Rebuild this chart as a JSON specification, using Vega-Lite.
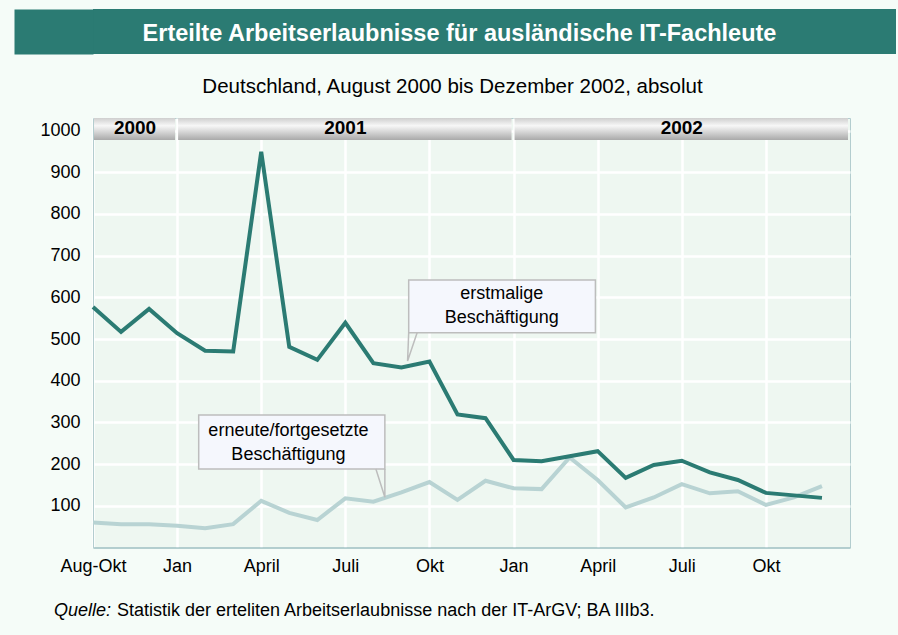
{
  "$schema": "https://vega.github.io/schema/vega-lite/v6.json",
  "background": "#f5fcf8",
  "padding": {"left": 13, "top": 9, "right": 3, "bottom": 15},
  "spacing": 22,
  "config": {"font": "Liberation Sans", "view": {"stroke": null}},
  "vconcat": [
    {
      "width": 803,
      "height": 45,
      "view": {"fill": "#2b7b73", "stroke": null},
      "data": {"values": [{"t": "Erteilte Arbeitserlaubnisse für ausländische IT-Fachleute"}]},
      "mark": {"type": "text", "color": "white", "fontWeight": "bold", "fontSize": 23.5, "baseline": "middle", "align": "center", "dx": -35, "dy": 2},
      "encoding": {
        "text": {"field": "t"},
        "y": {"datum": 0.5, "type": "quantitative", "scale": {"domain": [0, 1], "nice": false},
          "axis": {"title": null, "labels": false, "ticks": false, "grid": false, "domain": true,
            "domainColor": "#2b7b73", "domainWidth": 79, "domainCap": "butt", "offset": 39.5, "minExtent": 0, "maxExtent": 79}}
      }
    },
    {
      "width": 757,
      "height": 429.5,
      "title": {"text": "Deutschland, August 2000 bis Dezember 2002, absolut", "fontSize": 20.5, "fontWeight": "normal", "color": "black", "anchor": "middle", "dx": -19, "offset": 20.5},
      "view": {"fill": "#eef7f1", "stroke": "#b3cdcf", "strokeWidth": 1},
      "layer": [
        {
          "data": {"values": [
            {"monat": "Aug-Okt 2000", "i": 0, "erstmalig": 577, "erneut": 60},
            {"monat": "Nov 2000", "i": 1, "erstmalig": 517, "erneut": 56},
            {"monat": "Dez 2000", "i": 2, "erstmalig": 572, "erneut": 56},
            {"monat": "Jan 2001", "i": 3, "erstmalig": 514, "erneut": 52},
            {"monat": "Feb 2001", "i": 4, "erstmalig": 472, "erneut": 46},
            {"monat": "Mär 2001", "i": 5, "erstmalig": 470, "erneut": 56},
            {"monat": "Apr 2001", "i": 6, "erstmalig": 949, "erneut": 112},
            {"monat": "Mai 2001", "i": 7, "erstmalig": 481, "erneut": 83},
            {"monat": "Jun 2001", "i": 8, "erstmalig": 450, "erneut": 66},
            {"monat": "Jul 2001", "i": 9, "erstmalig": 539, "erneut": 118},
            {"monat": "Aug 2001", "i": 10, "erstmalig": 442, "erneut": 110},
            {"monat": "Sep 2001", "i": 11, "erstmalig": 432, "erneut": 132},
            {"monat": "Okt 2001", "i": 12, "erstmalig": 446, "erneut": 157},
            {"monat": "Nov 2001", "i": 13, "erstmalig": 319, "erneut": 114},
            {"monat": "Dez 2001", "i": 14, "erstmalig": 310, "erneut": 160},
            {"monat": "Jan 2002", "i": 15, "erstmalig": 210, "erneut": 142},
            {"monat": "Feb 2002", "i": 16, "erstmalig": 207, "erneut": 140},
            {"monat": "Mär 2002", "i": 17, "erstmalig": 219, "erneut": 216},
            {"monat": "Apr 2002", "i": 18, "erstmalig": 231, "erneut": 162},
            {"monat": "Mai 2002", "i": 19, "erstmalig": 167, "erneut": 96},
            {"monat": "Jun 2002", "i": 20, "erstmalig": 198, "erneut": 120},
            {"monat": "Jul 2002", "i": 21, "erstmalig": 208, "erneut": 152},
            {"monat": "Aug 2002", "i": 22, "erstmalig": 180, "erneut": 130},
            {"monat": "Sep 2002", "i": 23, "erstmalig": 162, "erneut": 135},
            {"monat": "Okt 2002", "i": 24, "erstmalig": 131, "erneut": 102},
            {"monat": "Nov 2002", "i": 25, "erstmalig": 125, "erneut": 120},
            {"monat": "Dez 2002", "i": 26, "erstmalig": 119, "erneut": 147}
          ]},
          "layer": [
            {
              "mark": {"type": "line", "color": "#b8d3d3", "strokeWidth": 4, "strokeJoin": "miter"},
              "encoding": {
                "x": {"field": "i", "type": "quantitative",
                  "scale": {"domain": [0, 27], "nice": false, "zero": false},
                  "axis": {"title": null, "values": [0, 3, 6, 9, 12, 15, 18, 21, 24],
                    "labelExpr": "['Aug-Okt','Jan','April','Juli','Okt','Jan','April','Juli','Okt'][round(datum.value/3)]",
                    "labelFlush": false, "labelOverlap": false, "labelFontSize": 18, "labelColor": "black", "labelPadding": 10,
                    "ticks": false, "grid": true, "gridColor": "white", "gridWidth": 2.5,
                    "domain": true, "domainColor": "#a9c6c8", "domainWidth": 1.5}},
                "y": {"field": "erneut", "type": "quantitative",
                  "scale": {"domain": [0, 1030], "nice": false, "zero": true},
                  "axis": {"title": null, "values": [100, 200, 300, 400, 500, 600, 700, 800, 900, 1000], "format": "d",
                    "labelFontSize": 18, "labelColor": "black", "labelPadding": 13, "labelOverlap": false,
                    "ticks": false, "grid": true, "gridColor": "white", "gridWidth": 2.5,
                    "domain": true, "domainColor": "#b3cdcf", "minExtent": 79, "maxExtent": 79}}
              }
            },
            {
              "mark": {"type": "line", "color": "#2b7b73", "strokeWidth": 4, "strokeJoin": "miter"},
              "encoding": {
                "x": {"field": "i", "type": "quantitative"},
                "y": {"field": "erstmalig", "type": "quantitative"}
              }
            }
          ]
        },
        {
          "data": {"values": [
            {"jahr": "2000", "von": 0, "bis": 3, "mitte": 1.5},
            {"jahr": "2001", "von": 3, "bis": 15, "mitte": 9},
            {"jahr": "2002", "von": 15, "bis": 27, "mitte": 21}
          ]},
          "layer": [
            {
              "mark": {"type": "rect", "xOffset": 1, "x2Offset": -2, "stroke": null,
                "fill": {"gradient": "linear", "x1": 0, "y1": 0, "x2": 0, "y2": 1,
                  "stops": [{"offset": 0, "color": "#cfcfcf"}, {"offset": 0.35, "color": "#f7f7f7"}, {"offset": 1, "color": "#a9a9a9"}]}},
              "encoding": {
                "x": {"field": "von", "type": "quantitative"},
                "x2": {"field": "bis"},
                "y": {"datum": 977},
                "y2": {"datum": 1030}
              }
            },
            {
              "mark": {"type": "text", "fontWeight": "bold", "fontSize": 19, "color": "black", "baseline": "middle", "align": "center"},
              "encoding": {
                "x": {"field": "mitte", "type": "quantitative"},
                "y": {"datum": 1006},
                "text": {"field": "jahr"}
              }
            }
          ]
        },
        {
          "data": {"values": [
            {"box": "erstmalig", "x": 11.26, "x2": 17.92, "y": 515, "y2": 641.5},
            {"box": "erneut", "x": 3.77, "x2": 10.41, "y": 188.3, "y2": 317.8}
          ]},
          "mark": {"type": "rect", "fill": "#f5f7fd", "stroke": "#bdbdbd", "strokeWidth": 1.5},
          "encoding": {
            "x": {"field": "x", "type": "quantitative"},
            "x2": {"field": "x2"},
            "y": {"field": "y", "type": "quantitative"},
            "y2": {"field": "y2"}
          }
        },
        {
          "data": {"values": [
            {"box": "erstmalig", "k": 1, "x": 11.26, "y": 515},
            {"box": "erstmalig", "k": 2, "x": 11.22, "y": 447},
            {"box": "erstmalig", "k": 3, "x": 11.56, "y": 515},
            {"box": "erneut", "k": 1, "x": 10.09, "y": 188.3},
            {"box": "erneut", "k": 2, "x": 10.41, "y": 120.4},
            {"box": "erneut", "k": 3, "x": 10.41, "y": 188.3}
          ]},
          "mark": {"type": "line", "color": "#bdbdbd", "strokeWidth": 1.5, "strokeJoin": "miter"},
          "encoding": {
            "x": {"field": "x", "type": "quantitative"},
            "y": {"field": "y", "type": "quantitative"},
            "detail": {"field": "box"},
            "order": {"field": "k"}
          }
        },
        {
          "data": {"values": [
            {"label": "erstmalige\nBeschäftigung", "x": 14.58, "y": 608.6},
            {"label": "erneute/fortgesetzte\nBeschäftigung", "x": 6.97, "y": 279.4}
          ]},
          "mark": {"type": "text", "fontSize": 18, "lineHeight": 24, "lineBreak": "\n", "baseline": "middle", "align": "center", "color": "black"},
          "encoding": {
            "x": {"field": "x", "type": "quantitative"},
            "y": {"field": "y", "type": "quantitative"},
            "text": {"field": "label"}
          }
        }
      ]
    },
    {
      "width": 803,
      "height": 26,
      "view": {"fill": null, "stroke": null},
      "layer": [
        {
          "data": {"values": [{"t": "Quelle:"}]},
          "mark": {"type": "text", "fontSize": 18, "fontStyle": "italic", "align": "left", "baseline": "middle", "dx": -440.5, "color": "black"},
          "encoding": {"text": {"field": "t"}}
        },
        {
          "data": {"values": [{"t": "Statistik der erteliten Arbeitserlaubnisse nach der IT-ArGV; BA IIIb3."}]},
          "mark": {"type": "text", "fontSize": 18, "align": "left", "baseline": "middle", "dx": -377.5, "color": "black"},
          "encoding": {"text": {"field": "t"}}
        }
      ]
    }
  ]
}
